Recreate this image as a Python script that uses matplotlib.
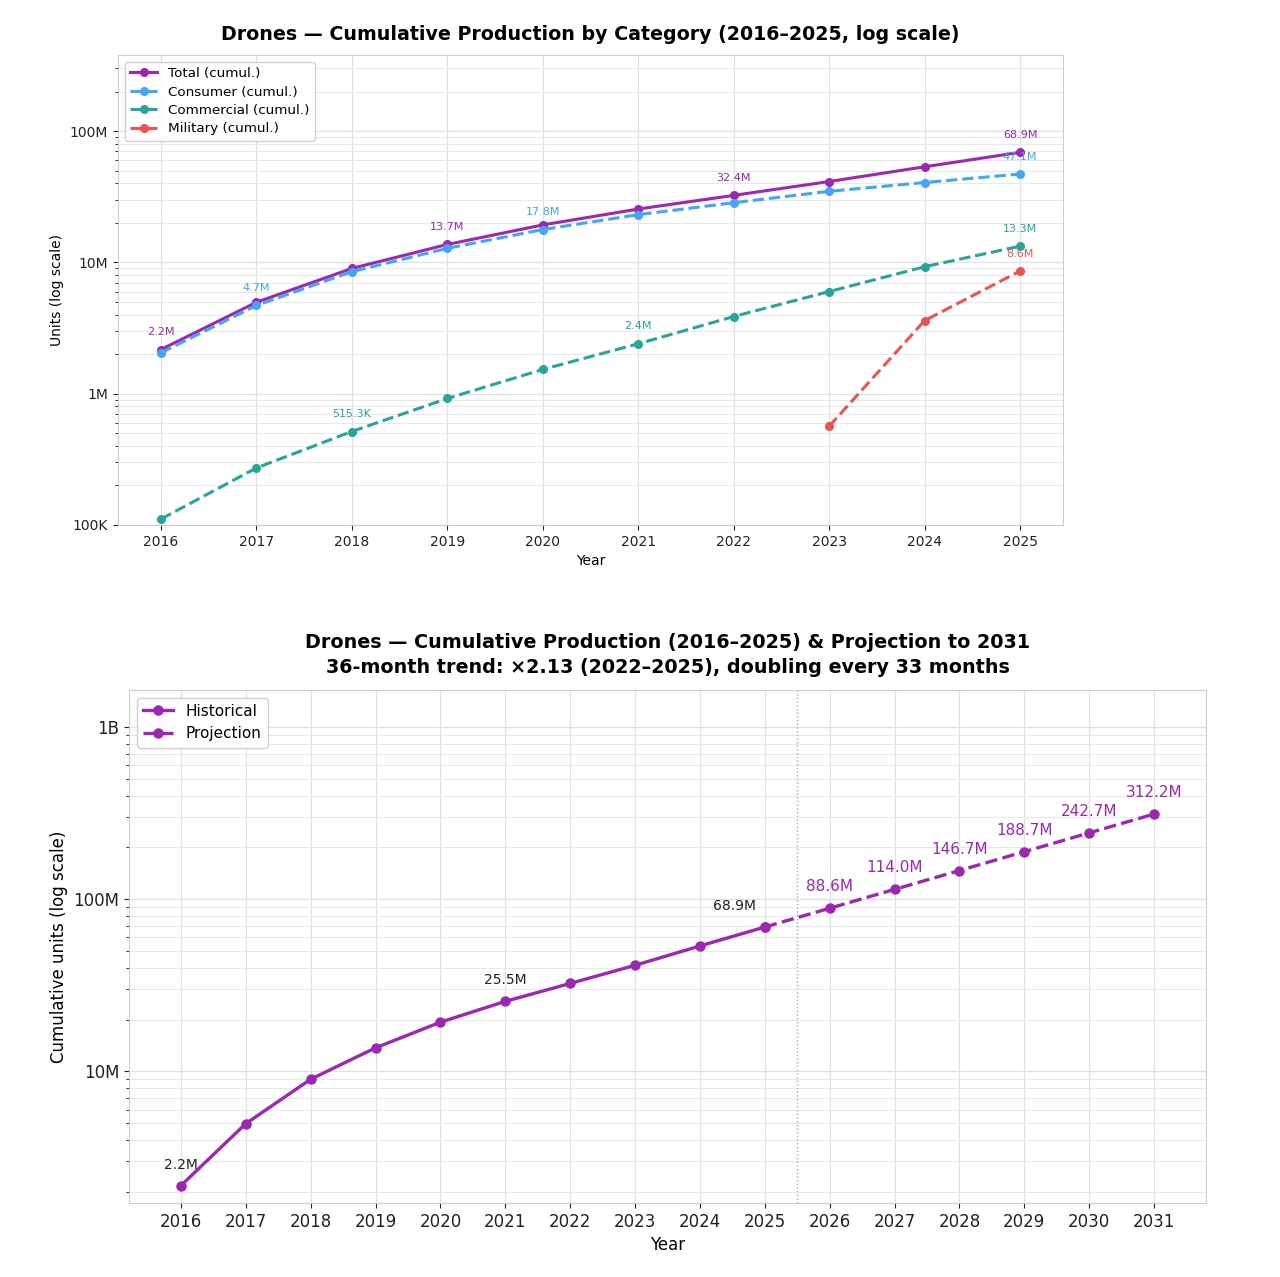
import numpy as np
import matplotlib.pyplot as plt
from matplotlib.ticker import FuncFormatter, LogLocator, NullFormatter

# du lieu (trieu chiec)
years = [2016, 2017, 2018, 2019, 2020, 2021, 2022, 2023, 2024, 2025]
total = [2.17, 4.97, 9.0, 13.7, 19.3, 25.5, 32.4, 41.3, 53.5, 68.9]
consumer = [2.05, 4.7, 8.5, 12.8, 17.8, 23.1, 28.5, 34.8, 40.6, 47.1]
commercial = [0.111, 0.272, 0.5153, 0.92, 1.53, 2.4, 3.87, 6.0, 9.27, 13.3]
military = [np.nan] * 7 + [0.565, 3.6, 8.6]

proj_years = [2025, 2026, 2027, 2028, 2029, 2030, 2031]
proj_vals = [68.9, 88.6, 114.0, 146.7, 188.7, 242.7, 312.2]

# nhan hien thi tren tung duong
total_lbl = [2016, 2019, 2022, 2025]
consumer_lbl = [2017, 2020, 2025]
commercial_lbl = [2018, 2021, 2025]
military_lbl = [2025]
hist_lbl = [2016, 2021, 2025]

C_TOT = '#9C27B0'
C_CON = '#42A5F5'
C_COM = '#26A69A'
C_MIL = '#EF5350'


def fmt_units(v, pos=None):
    if v >= 1e9:
        return f'{v/1e9:.0f}B'
    if v >= 1e6:
        return f'{v/1e6:.0f}M'
    if v >= 1e3:
        return f'{v/1e3:.0f}K'
    return f'{v:.0f}'


def fmt_lbl(v):
    if v >= 1e6:
        return f'{v/1e6:.1f}M'
    return f'{v/1e3:.1f}K'


def style_ax(ax, fs):
    ax.set_yscale('log')
    ax.yaxis.set_major_formatter(FuncFormatter(fmt_units))
    ax.yaxis.set_minor_locator(LogLocator(base=10, subs=np.arange(2, 10)))
    ax.yaxis.set_minor_formatter(NullFormatter())
    ax.grid(True, which='major', color='#e0e0e0', lw=0.9)
    ax.grid(True, which='minor', axis='y', color='#e8e8e8', lw=0.7)
    ax.set_axisbelow(True)
    for s in ax.spines.values():
        s.set_color('#cccccc')
    ax.tick_params(labelsize=fs, colors='#222222')
    ax.tick_params(which='minor', length=2.5)


fig = plt.figure(figsize=(12.8, 12.77), dpi=100)
ax1 = fig.add_axes([118/1280, 1-525/1277, (1063-118)/1280, (525-55)/1277])
ax2 = fig.add_axes([129/1280, 1-1203/1277, (1206-129)/1280, (1203-690)/1277])

# ---- bieu do tren ----
yrs = np.array(years)
series = [
    ('Total (cumul.)', total, C_TOT, '-', total_lbl),
    ('Consumer (cumul.)', consumer, C_CON, '--', consumer_lbl),
    ('Commercial (cumul.)', commercial, C_COM, '--', commercial_lbl),
    ('Military (cumul.)', military, C_MIL, '--', military_lbl),
]
for name, vals, col, ls, lbls in series:
    v = np.array(vals) * 1e6
    ax1.plot(yrs, v, ls=ls, color=col, lw=2.2, marker='o', ms=5.5, label=name)
    for y in lbls:
        val = v[years.index(y)]
        ax1.annotate(fmt_lbl(val), (y, val), xytext=(0, 9), textcoords='offset points',
                     ha='center', va='bottom', fontsize=8, color=col)

style_ax(ax1, 10)
ax1.set_ylim(1e5, 3.8e8)
ax1.set_xticks(years)
ax1.set_xlabel('Year', fontsize=10)
ax1.set_ylabel('Units (log scale)', fontsize=10)
ax1.set_title('Drones — Cumulative Production by Category (2016–2025, log scale)',
              fontsize=13.7, fontweight='bold', pad=11)
ax1.legend(loc='upper left', fontsize=9.7, framealpha=0.9, edgecolor='#cccccc',
           labelspacing=0.4)

# ---- bieu do duoi ----
hv = np.array(total) * 1e6
pv = np.array(proj_vals) * 1e6
ax2.plot(yrs, hv, '-', color=C_TOT, lw=2.4, marker='o', ms=6.5, label='Historical')
ax2.plot(proj_years, pv, '--', color=C_TOT, lw=2.4, marker='o', ms=6.5, label='Projection')
ax2.axvline(2025.5, color='#aaaaaa', ls=':', lw=1)
for y in hist_lbl:
    val = hv[years.index(y)]
    dx = -22 if y == years[-1] else 0
    ax2.annotate(fmt_lbl(val), (y, val), xytext=(dx, 10), textcoords='offset points',
                 ha='center', va='bottom', fontsize=10, color='#222222')
for y, val in zip(proj_years[1:], pv[1:]):
    ax2.annotate(fmt_lbl(val), (y, val), xytext=(0, 10), textcoords='offset points',
                 ha='center', va='bottom', fontsize=11, color=C_TOT)

style_ax(ax2, 12)
ax2.set_ylim(1.72e6, 1.64e9)
ax2.set_xlim(2015.2, 2031.8)
ax2.set_xticks(list(range(2016, 2032)))
ax2.set_xlabel('Year', fontsize=12)
ax2.set_ylabel('Cumulative units (log scale)', fontsize=12)
ax2.set_title('Drones — Cumulative Production (2016–2025) & Projection to 2031\n'
              '36-month trend: ×2.13 (2022–2025), doubling every 33 months',
              fontsize=13.8, fontweight='bold', pad=12, linespacing=1.45)
ax2.legend(loc='upper left', fontsize=11, framealpha=0.9, edgecolor='#cccccc')

fig.savefig('out.png', dpi=100, facecolor='white')
